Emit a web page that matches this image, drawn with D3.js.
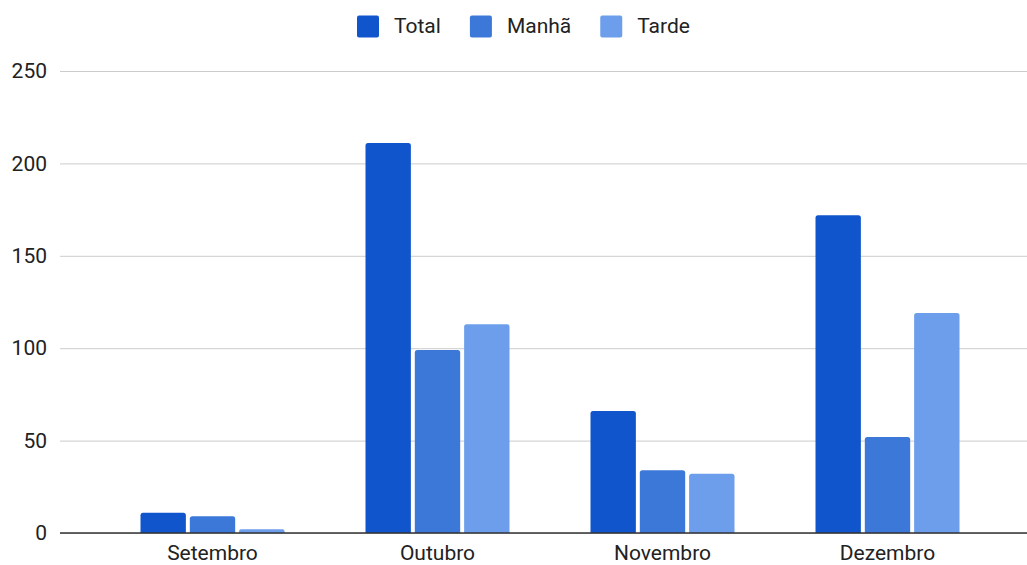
<!DOCTYPE html>
<html>
<head>
<meta charset="utf-8">
<script src="https://cdnjs.cloudflare.com/ajax/libs/d3/7.8.5/d3.min.js"></script>
<style>
  body { margin: 0; background: #fff; }
  text { font-family: Roboto, Arial, sans-serif; fill: #222; }
</style>
</head>
<body>
<svg id="chart" width="1027" height="565"></svg>
<script>
var WIDTH = 1027;
var HEIGHT = 565;
var FONT = 'Roboto, Arial, sans-serif';

var months = ['Setembro', 'Outubro', 'Novembro', 'Dezembro'];
var seriesNames = ['Total', 'Manhã', 'Tarde'];
var total = [11, 211, 66, 172];
var manha = [9, 99, 34, 52];
var tarde = [2, 113, 32, 119];
var yTicks = [0, 50, 100, 150, 200, 250];
var colors = ['#1155cc', '#3c78d8', '#6d9eeb'];

var seriesValues = [total, manha, tarde];

var svg = d3.select('#chart');

var xScale = d3.scaleBand()
    .domain(months)
    .range([100, 1000])
    .paddingInner(0.36)
    .paddingOuter(0.18);

var innerScale = d3.scaleBand()
    .domain(seriesNames)
    .range([0, xScale.bandwidth()])
    .paddingInner(0.08);

var yScale = d3.scaleLinear()
    .domain([0, 250])
    .range([533, 71]);

// gridlines + y labels
var leftAxis = d3.axisLeft(yScale)
    .tickValues(yTicks)
    .tickSize(-(WIDTH - 60))
    .tickPadding(13)
    .tickFormat(d3.format('d'));

var yAxis = svg.append('g')
    .attr('transform', 'translate(60,0)')
    .call(leftAxis);
yAxis.select('.domain').remove();
yAxis.selectAll('.tick line').attr('stroke', '#cccccc').attr('stroke-width', 1);
yAxis.selectAll('.tick text')
    .attr('x', -13)
    .style('font-size', '21px')
    .style('font-family', FONT)
    .attr('fill', '#222');

// bars
var groups = svg.append('g').selectAll('g')
    .data(months)
    .enter()
    .append('g')
    .attr('transform', function(d){ return 'translate(' + xScale(d) + ',0)'; });

groups.selectAll('path')
    .data(function(d, i){
        return seriesNames.map(function(s, j){
            return { series: s, value: seriesValues[j][i], color: colors[j] };
        });
    })
    .enter()
    .append('path')
    .attr('fill', function(d){ return d.color; })
    .attr('d', function(d){
        var x = innerScale(d.series);
        var w = innerScale.bandwidth();
        var y0 = yScale(0);
        var y1 = yScale(d.value);
        var r = Math.min(2.5, (y0 - y1) / 2);
        return 'M' + x + ',' + y0 +
            'V' + (y1 + r) +
            'Q' + x + ',' + y1 + ' ' + (x + r) + ',' + y1 +
            'H' + (x + w - r) +
            'Q' + (x + w) + ',' + y1 + ' ' + (x + w) + ',' + (y1 + r) +
            'V' + y0 + 'Z';
    });

// baseline
svg.append('line')
    .attr('x1', 60).attr('x2', WIDTH)
    .attr('y1', yScale(0)).attr('y2', yScale(0))
    .attr('stroke', '#333').attr('stroke-width', 1.3);

// x labels
var bottomAxis = d3.axisBottom(xScale).tickSize(0).tickPadding(12);
var xAxis = svg.append('g')
    .attr('transform', 'translate(0,' + yScale(0) + ')')
    .call(bottomAxis);
xAxis.select('.domain').remove();
xAxis.selectAll('.tick text')
    .style('font-size', '21px')
    .style('font-family', FONT)
    .attr('fill', '#222');

// legend
var legend = svg.append('g').attr('transform', 'translate(357,0)');
var lx = 0;
seriesNames.forEach(function(name, i){
    var item = legend.append('g').attr('transform', 'translate(' + lx + ',0)');
    item.append('rect')
        .attr('x', 0).attr('y', 15.5)
        .attr('width', 22).attr('height', 22)
        .attr('rx', 2)
        .attr('fill', colors[i]);
    var t = item.append('text')
        .attr('x', 37).attr('y', 33)
        .style('font-size', '21px')
        .style('font-family', FONT)
        .text(name);
    lx += 37 + t.node().getComputedTextLength() + 29;
});
</script>
</body>
</html>
